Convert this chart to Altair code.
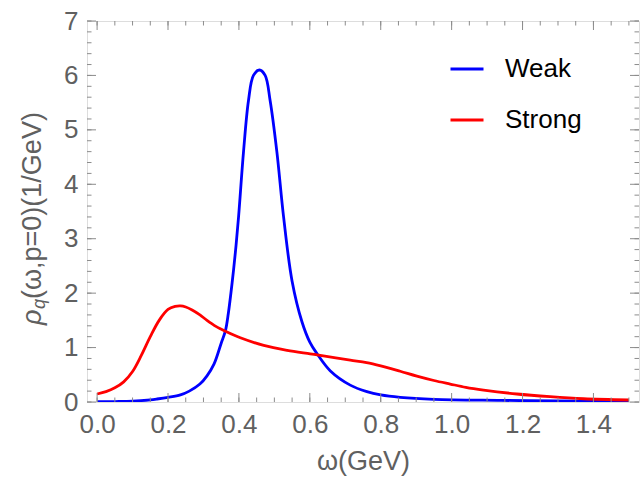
import altair as alt
import pandas as pd

# ---- data ----
weak_x = [0.0, 0.05, 0.10, 0.15, 0.169, 0.20, 0.235, 0.26, 0.29, 0.31, 0.33, 0.35, 0.362,
          0.37, 0.381, 0.39, 0.399, 0.413, 0.427, 0.441, 0.458, 0.474, 0.488, 0.507,
          0.526, 0.55, 0.578, 0.60, 0.62, 0.658, 0.714, 0.761, 0.80, 0.855, 0.95, 1.14,
          1.30, 1.50]
weak_y = [0.005, 0.008, 0.015, 0.04, 0.055, 0.085, 0.13, 0.20, 0.33, 0.48, 0.70, 1.08,
          1.31, 1.62, 2.20, 2.75, 3.40, 4.60, 5.54, 6.00, 6.10, 6.00, 5.54, 4.60,
          3.40, 2.22, 1.47, 1.10, 0.89, 0.57, 0.31, 0.19, 0.13, 0.086, 0.05, 0.03,
          0.018, 0.012]

strong_x = [0.0, 0.025, 0.05, 0.075, 0.10, 0.125, 0.15, 0.175, 0.20, 0.22, 0.235, 0.25,
            0.268, 0.29, 0.31, 0.335, 0.362, 0.404, 0.47, 0.536, 0.601, 0.625, 0.714,
            0.76, 0.80, 0.855, 0.902, 0.95, 0.996, 1.04, 1.09, 1.184, 1.278, 1.372, 1.50]
strong_y = [0.147, 0.19, 0.26, 0.37, 0.56, 0.86, 1.20, 1.50, 1.70, 1.755, 1.765, 1.745,
            1.69, 1.60, 1.50, 1.39, 1.30, 1.18, 1.04, 0.95, 0.885, 0.86, 0.77,
            0.725, 0.665, 0.565, 0.475, 0.395, 0.33, 0.27, 0.22, 0.147, 0.097, 0.06, 0.037]

series_names = ["Weak", "Strong"]
series_colors = ["#0000ff", "#ff0000"]

x_label_values = [0.0, 0.2, 0.4, 0.6, 0.8, 1.0, 1.2, 1.4]
y_label_values = [0, 1, 2, 3, 4, 5, 6, 7]
x_minor_values = [round(0.05 * i, 2) for i in range(31)]
y_minor_values = [round(0.2 * i, 1) for i in range(36)]

# ---- layout ----
W, H = 552, 381
FONT = "Liberation Sans"
GRAY = "#606060"
FRAME = "#8c8c8c"
MAJ, MIN = 9, 4.5

df = pd.DataFrame({
    "x": weak_x + strong_x,
    "y": weak_y + strong_y,
    "series": [series_names[0]] * len(weak_x) + [series_names[1]] * len(strong_x),
})

xscale = alt.Scale(domain=[-0.0285, 1.5285], nice=False, zero=False)
yscale = alt.Scale(domain=[0, 7], nice=False, zero=False)

x_axis = alt.Axis(values=x_label_values, format=".1f", ticks=False, domain=False,
                  grid=False, labelFontSize=26, labelColor=GRAY, labelFont=FONT,
                  labelPadding=9, labelFlush=False, labelOverlap=False,
                  title="ω(GeV)", titleFont=FONT, titleFontSize=27,
                  titleFontWeight="normal", titleColor=GRAY, titlePadding=11)
y_axis = alt.Axis(values=y_label_values, format="d", ticks=False, domain=False,
                  grid=False, labelFontSize=26, labelColor=GRAY, labelFont=FONT,
                  labelPadding=9, labelFlush=False, labelOverlap=False, title=None)

lines = alt.Chart(df).mark_line(strokeWidth=2.8, interpolate="catmull-rom", clip=True).encode(
    x=alt.X("x:Q", scale=xscale, axis=x_axis),
    y=alt.Y("y:Q", scale=yscale, axis=y_axis),
    color=alt.Color("series:N",
                    scale=alt.Scale(domain=series_names, range=series_colors),
                    legend=alt.Legend(orient="none", legendX=362, legendY=30, title=None,
                                      symbolType="stroke", symbolSize=1089,
                                      symbolStrokeWidth=2.8, labelFontSize=26,
                                      labelFont=FONT, labelColor="black", labelOffset=20,
                                      rowPadding=20, padding=0)),
    order=alt.Order("x:Q"),
)

xmaj = pd.DataFrame({"v": x_label_values})
xmin = pd.DataFrame({"v": x_minor_values})
ymaj = pd.DataFrame({"v": y_label_values})
ymin = pd.DataFrame({"v": y_minor_values})


def xticks(d, length):
    bottom = alt.Chart(d).mark_rule(color=FRAME, strokeWidth=1).encode(
        x=alt.X("v:Q", scale=xscale, axis=x_axis), y=alt.value(H), y2=alt.value(H - length))
    top = alt.Chart(d).mark_rule(color=FRAME, strokeWidth=1).encode(
        x=alt.X("v:Q", scale=xscale, axis=x_axis), y=alt.value(0), y2=alt.value(length))
    return [bottom, top]


def yticks(d, length):
    left = alt.Chart(d).mark_rule(color=FRAME, strokeWidth=1).encode(
        y=alt.Y("v:Q", scale=yscale, axis=y_axis), x=alt.value(0), x2=alt.value(length))
    right = alt.Chart(d).mark_rule(color=FRAME, strokeWidth=1).encode(
        y=alt.Y("v:Q", scale=yscale, axis=y_axis), x=alt.value(W), x2=alt.value(W - length))
    return [left, right]


tick_layers = xticks(xmin, MIN) + xticks(xmaj, MAJ) + yticks(ymin, MIN) + yticks(ymaj, MAJ)

# y-axis title: rho with subscript q, rotated
ytitle_base_x = -46
ytitle_start_y = 304
rho = alt.Chart(pd.DataFrame({"t": ["ρ"]})).mark_text(
    angle=270, align="left", baseline="alphabetic", font=FONT, fontSize=27,
    fontStyle="italic", color=GRAY).encode(
    text="t:N", x=alt.value(ytitle_base_x), y=alt.value(ytitle_start_y))
sub_q = alt.Chart(pd.DataFrame({"t": ["q"]})).mark_text(
    angle=270, align="left", baseline="alphabetic", font=FONT, fontSize=18,
    fontStyle="italic", color=GRAY).encode(
    text="t:N", x=alt.value(ytitle_base_x + 4), y=alt.value(ytitle_start_y - 16))
rest = alt.Chart(pd.DataFrame({"t": ["(ω,p=0)(1/GeV)"]})).mark_text(
    angle=270, align="left", baseline="alphabetic", font=FONT, fontSize=27,
    color=GRAY).encode(
    text="t:N", x=alt.value(ytitle_base_x), y=alt.value(ytitle_start_y - 26))

chart = alt.layer(lines, *tick_layers, rho, sub_q, rest).properties(
    width=W, height=H,
    autosize=alt.AutoSizeParams(type="none"),
    padding={"left": 87, "top": 21, "right": 2, "bottom": 80},
).configure_view(stroke=FRAME, strokeWidth=1).configure(background="white")

chart.save("out.html", embed_options={"renderer": "svg", "actions": False})
